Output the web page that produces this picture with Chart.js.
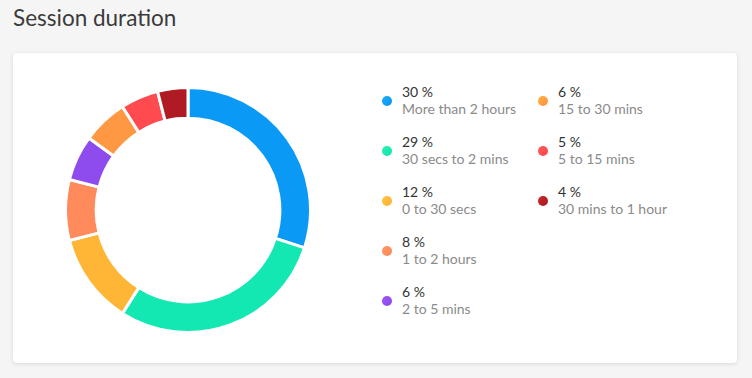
<!DOCTYPE html>
<html>
<head>
<meta charset="utf-8">
<script src="https://cdn.jsdelivr.net/npm/chart.js@4"></script>
<style>
  body { margin: 0; background: #f5f5f5; font-family: Lato, "Open Sans", sans-serif; width: 752px; height: 378px; position: relative; overflow: hidden; }
  .title { position: absolute; left: 13px; top: 3px; font-size: 22.5px; color: #3b3b3b; line-height: 30px; }
  .card { position: absolute; left: 13px; top: 53px; width: 724px; height: 310px; background: #fff; border-radius: 4px; box-shadow: 0 1px 4px rgba(0,0,0,0.12); }
  .chart-box { position: absolute; left: 64px; top: 86px; width: 248px; height: 248px; }
  .item { position: absolute; font-size: 14px; line-height: 17px; }
  .item .pct { color: #333; }
  .item .lbl { color: #8a8a8a; }
  .dot { position: absolute; width: 10px; height: 10px; border-radius: 50%; }
</style>
</head>
<body>
<div class="title">Session duration</div>
<div class="card"></div>
<div class="chart-box"><canvas id="myChart" width="248" height="248"></canvas></div>
<div id="legend"></div>
<script>
// values in percent, clockwise from the top
const labels = ['More than 2 hours', '30 secs to 2 mins', '0 to 30 secs', '1 to 2 hours',
                '2 to 5 mins', '15 to 30 mins', '5 to 15 mins', '30 mins to 1 hour'];
const values = [30, 29, 12, 8, 6, 6, 5, 4];
const colors = ['#0a9af6', '#14e8b2', '#ffb637', '#ff8a5b', '#8e4cef', '#ff9842', '#ff4a4f', '#b01b23'];
const lightColors = ['#22aefa', '#30f0a8', '#ffc244', '#ff9a60', '#a055f5', '#ffb040', '#ff5a55', '#c82a2a'];

const rows_per_col = 5;

// html legend
legend = document.getElementById('legend');
for (i = 0; i < labels.length; i++) {
  col = Math.floor(i / rows_per_col);
  row = i % rows_per_col;
  x = col == 0 ? 402 : 558;
  y = 83 + row * 50;

  dot = document.createElement('div');
  dot.className = 'dot';
  dot.style.left = (x - 20) + 'px';
  dot.style.top = (y + 13) + 'px';
  dot.style.background = 'linear-gradient(135deg, ' + lightColors[i] + ', ' + colors[i] + ' 75%)';
  legend.appendChild(dot);

  item = document.createElement('div');
  item.className = 'item';
  item.style.left = x + 'px';
  item.style.top = y + 'px';
  item.innerHTML = '<div class="pct">' + values[i] + ' %</div><div class="lbl">' + labels[i] + '</div>';
  legend.appendChild(item);
}

const data = {
  labels: labels,
  datasets: [{
    data: values,
    backgroundColor: colors,
    borderColor: '#ffffff',
    borderWidth: 3
  }]
};

const config = {
  type: 'doughnut',
  data: data,
  options: {
    responsive: false,
    animation: false,
    cutout: '75%',
    plugins: {
      legend: { display: false },
      tooltip: { enabled: false }
    }
  }
};

const myChart = new Chart(document.getElementById('myChart'), config);
</script>
</body>
</html>
